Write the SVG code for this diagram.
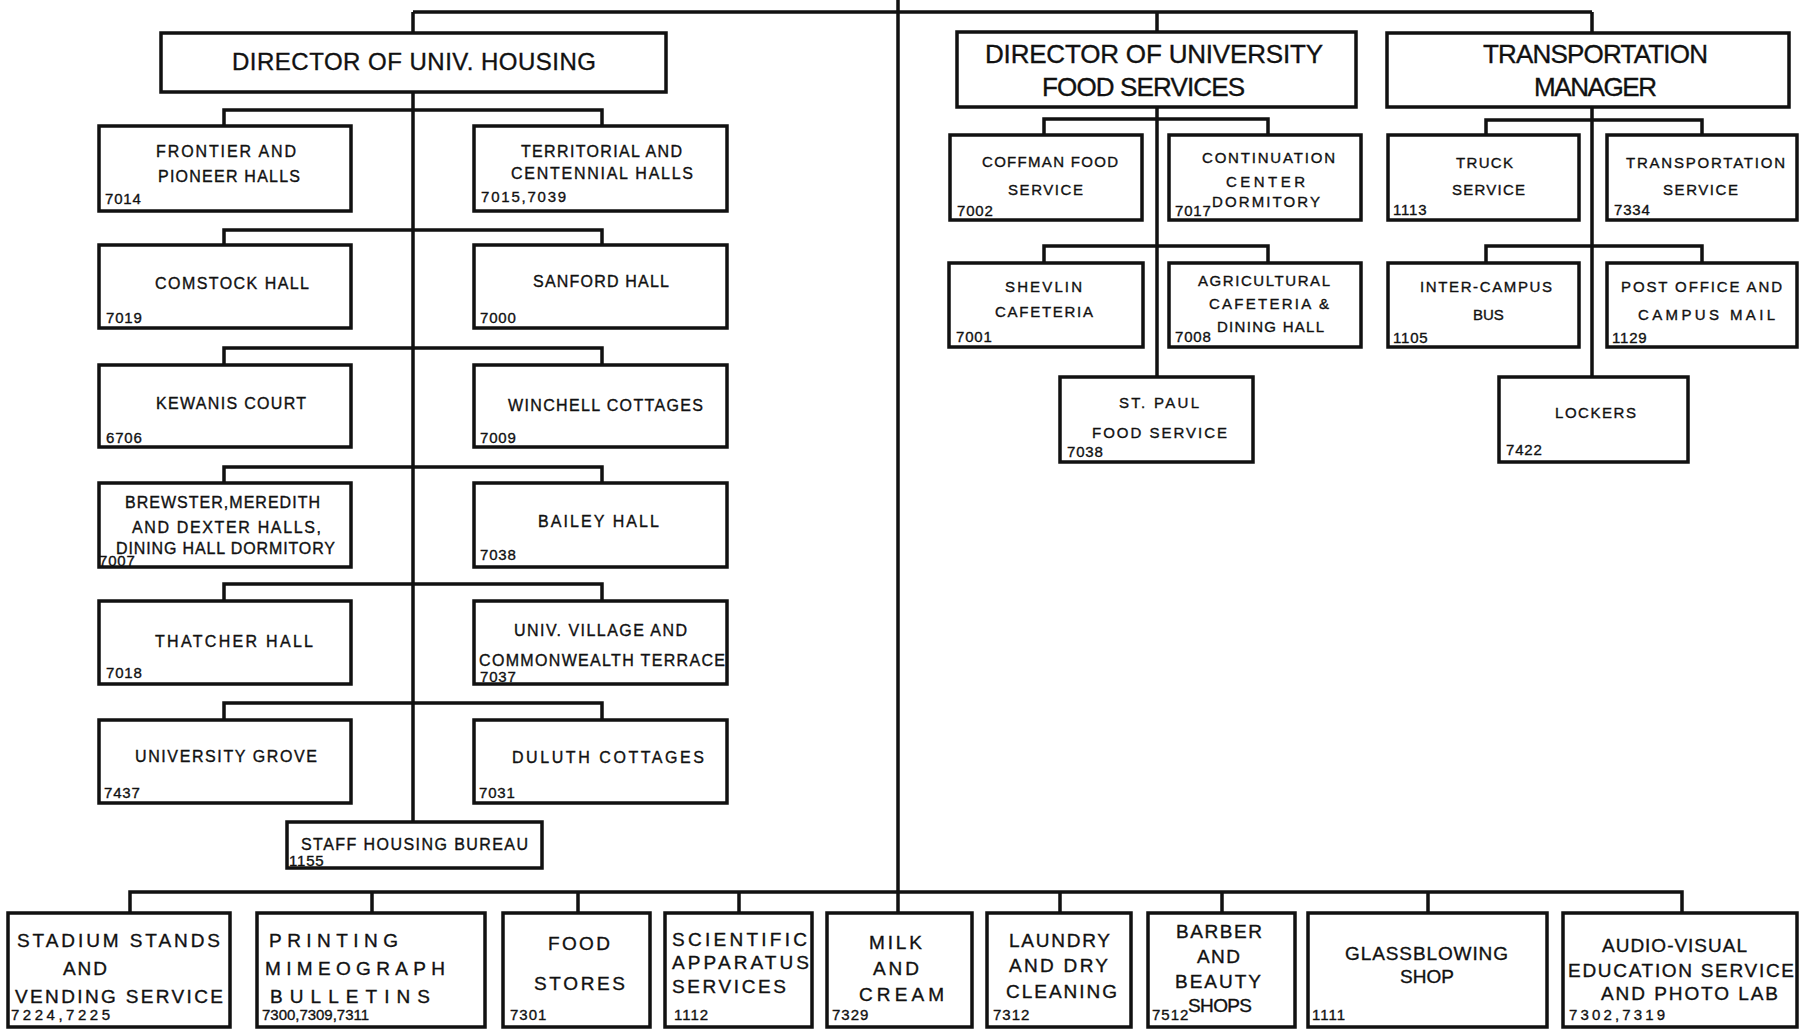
<svg xmlns="http://www.w3.org/2000/svg" width="1801" height="1029" viewBox="0 0 1801 1029">
<style>
.box{fill:#fff;stroke:#111;stroke-width:3.5}
.ln{fill:none;stroke:#111;stroke-width:3.5}
text{font-family:"Liberation Sans",Arial,sans-serif;fill:#111;stroke:#111;stroke-width:0.35}
.h1{font-size:24px}
.h2{font-size:26px}
.m{font-size:16px}
.s{font-size:15px}
.b{font-size:19px}
.n{font-size:15px;letter-spacing:0.8px}
.nb{font-size:15px;letter-spacing:1px}
</style>
<rect width="1801" height="1029" fill="#fff"/>
<g id="connectors">
<path class="ln" d="M413,12 H1592 M898,0 V913 M413,12 V33 M1157,12 V32 M1592,12 V33"/>
<path class="ln" d="M413,92 V822"/>
<path class="ln" d="M224,126 V110 H602 V126 M224,245 V230 H602 V245 M224,365 V348 H602 V365 M224,483 V467 H602 V483 M224,601 V584 H602 V601 M224,720 V703 H602 V720"/>
<path class="ln" d="M1157,107 V377 M1044,135 V119 H1268 V135 M1044,263 V246 H1268 V263"/>
<path class="ln" d="M1592,107 V377 M1486,135 V120 H1702 V135 M1486,263 V246 H1702 V263"/>
<path class="ln" d="M130,913 V892 H1682 V913 M372,892 V913 M578,892 V913 M739,892 V913 M1060,892 V913 M1222,892 V913 M1428,892 V913"/>
</g>
<g id="dir-housing"><rect class="box" x="161" y="33" width="505" height="59"/><text class="h1" x="232" y="70" textLength="364">DIRECTOR OF UNIV. HOUSING</text></g>
<g id="frontier"><rect class="box" x="99" y="126" width="252" height="85"/><text class="m" x="156" y="157" textLength="140">FRONTIER AND</text><text class="m" x="158" y="182" textLength="142">PIONEER HALLS</text><text class="n" x="105" y="204">7014</text></g>
<g id="territorial"><rect class="box" x="474" y="126" width="253" height="85"/><text class="m" x="521" y="157" textLength="161">TERRITORIAL AND</text><text class="m" x="511" y="179" textLength="182">CENTENNIAL HALLS</text><text class="n" x="481" y="202" textLength="86">7015,7039</text></g>
<g id="comstock"><rect class="box" x="99" y="245" width="252" height="83"/><text class="m" x="155" y="289" textLength="154">COMSTOCK HALL</text><text class="n" x="106" y="323">7019</text></g>
<g id="sanford"><rect class="box" x="474" y="245" width="253" height="83"/><text class="m" x="533" y="287" textLength="136">SANFORD HALL</text><text class="n" x="480" y="323">7000</text></g>
<g id="kewanis"><rect class="box" x="99" y="365" width="252" height="82"/><text class="m" x="156" y="409" textLength="150">KEWANIS COURT</text><text class="n" x="106" y="443">6706</text></g>
<g id="winchell"><rect class="box" x="474" y="365" width="253" height="82"/><text class="m" x="508" y="411" textLength="195">WINCHELL COTTAGES</text><text class="n" x="480" y="443">7009</text></g>
<g id="brewster"><rect class="box" x="99" y="483" width="252" height="84"/><text class="m" x="125" y="508" textLength="195">BREWSTER,MEREDITH</text><text class="m" x="132" y="533" textLength="189">AND DEXTER HALLS,</text><text class="m" x="116" y="554" textLength="219">DINING HALL DORMITORY</text><text class="n" x="99" y="566">7007</text></g>
<g id="bailey"><rect class="box" x="474" y="483" width="253" height="84"/><text class="m" x="538" y="527" textLength="121">BAILEY HALL</text><text class="n" x="480" y="560">7038</text></g>
<g id="thatcher"><rect class="box" x="99" y="601" width="252" height="83"/><text class="m" x="155" y="647" textLength="158">THATCHER HALL</text><text class="n" x="106" y="678">7018</text></g>
<g id="univ-village"><rect class="box" x="474" y="601" width="253" height="83"/><text class="m" x="514" y="636" textLength="173">UNIV. VILLAGE AND</text><text class="m" x="479" y="666" textLength="246">COMMONWEALTH TERRACE</text><text class="n" x="480" y="682">7037</text></g>
<g id="univ-grove"><rect class="box" x="99" y="720" width="252" height="83"/><text class="m" x="135" y="762" textLength="182">UNIVERSITY GROVE</text><text class="n" x="104" y="798">7437</text></g>
<g id="duluth"><rect class="box" x="474" y="720" width="253" height="83"/><text class="m" x="512" y="763" textLength="192">DULUTH   COTTAGES</text><text class="n" x="479" y="798">7031</text></g>
<g id="staff-housing"><rect class="box" x="287" y="822" width="255" height="46"/><text class="m" x="301" y="850" textLength="227">STAFF HOUSING BUREAU</text><text class="n" x="289" y="866">1155</text></g>
<g id="dir-food"><rect class="box" x="957" y="32" width="399" height="75"/><text class="h2" x="985" y="63" textLength="338">DIRECTOR OF UNIVERSITY</text><text class="h2" x="1042" y="96" textLength="203">FOOD SERVICES</text></g>
<g id="transport-mgr"><rect class="box" x="1387" y="33" width="402" height="74"/><text class="h2" x="1483" y="63" textLength="225">TRANSPORTATION</text><text class="h2" x="1534" y="96" textLength="123">MANAGER</text></g>
<g id="coffman"><rect class="box" x="950" y="135" width="192" height="85"/><text class="s" x="982" y="167" textLength="136">COFFMAN FOOD</text><text class="s" x="1008" y="195" textLength="75">SERVICE</text><text class="n" x="957" y="216">7002</text></g>
<g id="continuation"><rect class="box" x="1169" y="135" width="192" height="85"/><text class="s" x="1202" y="163" textLength="133">CONTINUATION</text><text class="s" x="1226" y="187" textLength="79">CENTER</text><text class="s" x="1212" y="207" textLength="108">DORMITORY</text><text class="n" x="1175" y="216">7017</text></g>
<g id="shevlin"><rect class="box" x="949" y="263" width="194" height="84"/><text class="s" x="1005" y="292" textLength="77">SHEVLIN</text><text class="s" x="995" y="317" textLength="98">CAFETERIA</text><text class="n" x="956" y="342">7001</text></g>
<g id="agricultural"><rect class="box" x="1169" y="263" width="192" height="84"/><text class="s" x="1198" y="286" textLength="132">AGRICULTURAL</text><text class="s" x="1209" y="309" textLength="120">CAFETERIA &amp;</text><text class="s" x="1217" y="332" textLength="107">DINING HALL</text><text class="n" x="1175" y="342">7008</text></g>
<g id="st-paul"><rect class="box" x="1060" y="377" width="193" height="85"/><text class="s" x="1119" y="408" textLength="80">ST. PAUL</text><text class="s" x="1092" y="438" textLength="135">FOOD SERVICE</text><text class="n" x="1067" y="457">7038</text></g>
<g id="truck"><rect class="box" x="1388" y="135" width="191" height="85"/><text class="s" x="1456" y="168" textLength="57">TRUCK</text><text class="s" x="1452" y="195" textLength="73">SERVICE</text><text class="n" x="1393" y="215">1113</text></g>
<g id="transport-service"><rect class="box" x="1607" y="135" width="190" height="85"/><text class="s" x="1626" y="168" textLength="159">TRANSPORTATION</text><text class="s" x="1663" y="195" textLength="75">SERVICE</text><text class="n" x="1614" y="215">7334</text></g>
<g id="inter-campus"><rect class="box" x="1388" y="263" width="191" height="84"/><text class="s" x="1420" y="292" textLength="132">INTER-CAMPUS</text><text class="s" x="1473" y="320">BUS</text><text class="n" x="1393" y="343">1105</text></g>
<g id="post-office"><rect class="box" x="1607" y="263" width="190" height="84"/><text class="s" x="1621" y="292" textLength="161">POST OFFICE AND</text><text class="s" x="1638" y="320" textLength="137">CAMPUS    MAIL</text><text class="n" x="1612" y="343">1129</text></g>
<g id="lockers"><rect class="box" x="1499" y="377" width="189" height="85"/><text class="s" x="1555" y="418" textLength="81">LOCKERS</text><text class="n" x="1506" y="455">7422</text></g>
<g id="stadium"><rect class="box" x="8" y="913" width="222" height="114"/><text class="b" x="17" y="947" textLength="203">STADIUM STANDS</text><text class="b" x="63" y="975" textLength="44">AND</text><text class="b" x="15" y="1003" textLength="208">VENDING SERVICE</text><text class="nb" x="11" y="1020" textLength="100">7224,7225</text></g>
<g id="printing"><rect class="box" x="257" y="913" width="228" height="114"/><text class="b" x="269" y="947" textLength="129">PRINTING</text><text class="b" x="265" y="975" textLength="180">MIMEOGRAPH</text><text class="b" x="270" y="1003" textLength="160">BULLETINS</text><text class="nb" x="262" y="1020" textLength="108">7300,7309,7311</text></g>
<g id="food-stores"><rect class="box" x="503" y="913" width="147" height="114"/><text class="b" x="548" y="950" textLength="62">FOOD</text><text class="b" x="534" y="990" textLength="91">STORES</text><text class="nb" x="510" y="1020">7301</text></g>
<g id="scientific"><rect class="box" x="665" y="913" width="147" height="114"/><text class="b" x="672" y="946" textLength="135">SCIENTIFIC</text><text class="b" x="672" y="969" textLength="137">APPARATUS</text><text class="b" x="672" y="993" textLength="114">SERVICES</text><text class="nb" x="674" y="1020">1112</text></g>
<g id="milk"><rect class="box" x="827" y="913" width="145" height="114"/><text class="b" x="869" y="949" textLength="53">MILK</text><text class="b" x="873" y="975" textLength="46">AND</text><text class="b" x="859" y="1001" textLength="85">CREAM</text><text class="nb" x="832" y="1020">7329</text></g>
<g id="laundry"><rect class="box" x="987" y="913" width="144" height="114"/><text class="b" x="1009" y="947" textLength="101">LAUNDRY</text><text class="b" x="1009" y="972" textLength="99">AND DRY</text><text class="b" x="1006" y="998" textLength="111">CLEANING</text><text class="nb" x="993" y="1020">7312</text></g>
<g id="barber"><rect class="box" x="1148" y="913" width="147" height="114"/><text class="b" x="1176" y="938" textLength="86">BARBER</text><text class="b" x="1197" y="963" textLength="43">AND</text><text class="b" x="1175" y="988" textLength="86">BEAUTY</text><text class="b" x="1188" y="1012" textLength="64">SHOPS</text><text class="nb" x="1152" y="1020">7512</text></g>
<g id="glassblowing"><rect class="box" x="1308" y="913" width="239" height="114"/><text class="b" x="1345" y="960" textLength="163">GLASSBLOWING</text><text class="b" x="1400" y="983" textLength="54">SHOP</text><text class="nb" x="1312" y="1020">1111</text></g>
<g id="audio-visual"><rect class="box" x="1563" y="913" width="234" height="114"/><text class="b" x="1602" y="952" textLength="145">AUDIO-VISUAL</text><text class="b" x="1568" y="977" textLength="226">EDUCATION SERVICE</text><text class="b" x="1601" y="1000" textLength="177">AND PHOTO LAB</text><text class="nb" x="1569" y="1020" textLength="97">7302,7319</text></g>
</svg>
